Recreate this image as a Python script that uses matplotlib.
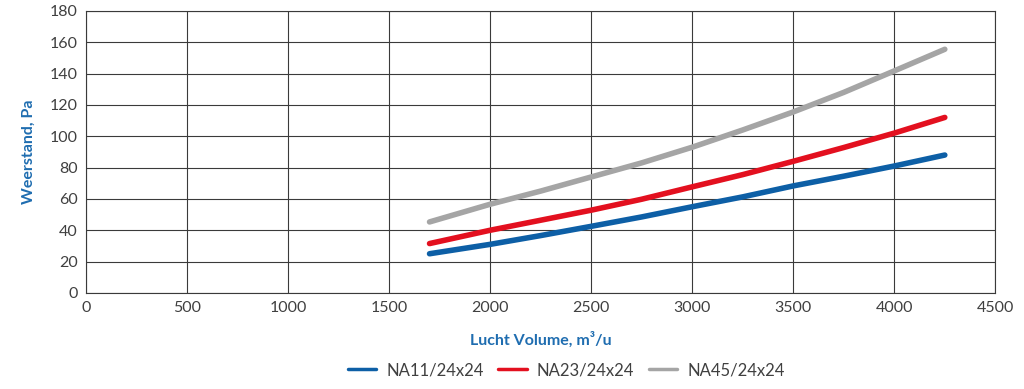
import matplotlib.pyplot as plt

# air volume (m3/h) and pressure drop (Pa)
volume = [1700, 2000, 2250, 2500, 2750, 3000, 3250, 3500, 3750, 4000, 4250]
na11 = [25, 31, 36.6, 42.5, 48.5, 55, 61.3, 68.3, 74.5, 81, 88]
na23 = [31.5, 40, 46.4, 52.8, 59.8, 67.7, 75.5, 84, 92.8, 102, 112]
na45 = [45.3, 56.6, 65, 74, 83, 93, 104, 115.5, 128, 141.7, 155.5]

labels = ['NA11/24x24', 'NA23/24x24', 'NA45/24x24']
colors = ['#0d5fa6', '#e3101f', '#a5a5a5']

plt.rcParams['font.family'] = ['Lato', 'DejaVu Sans']

fig = plt.figure(figsize=(10.24, 3.89), dpi=100)
ax = fig.add_axes([0.084, 0.247, 0.888, 0.725])

for y, lab, c in zip([na11, na23, na45], labels, colors):
    ax.plot(volume, y, color=c, lw=4, label=lab, solid_capstyle='round')

ax.set_xlim(0, 4500)
ax.set_ylim(0, 180)
ax.set_xticks(range(0, 4501, 500))
ax.set_yticks(range(0, 181, 20))
ax.grid(True, color='#3a3a3a', lw=0.8)
ax.set_axisbelow(True)
for s in ax.spines.values():
    s.set_color('#3a3a3a')
    s.set_linewidth(0.8)
ax.tick_params(length=0, labelsize=11.5, colors='#404040', pad=6)

ax.set_xlabel('Lucht Volume, m³/u', color='#1f6db0', fontweight='bold', fontsize=11.5, labelpad=12)
ax.set_ylabel('Weerstand, Pa', color='#1f6db0', fontweight='bold', fontsize=11.5, labelpad=10)

leg = fig.legend(loc='center', bbox_to_anchor=(0.553, 0.048), ncol=3, frameon=False,
                 fontsize=12, handlelength=1.7, handletextpad=0.6, columnspacing=0.9)
for t in leg.get_texts():
    t.set_color('#404040')
for h in leg.get_lines():
    h.set_linewidth(2.5)

fig.savefig('out.png', dpi=100)
